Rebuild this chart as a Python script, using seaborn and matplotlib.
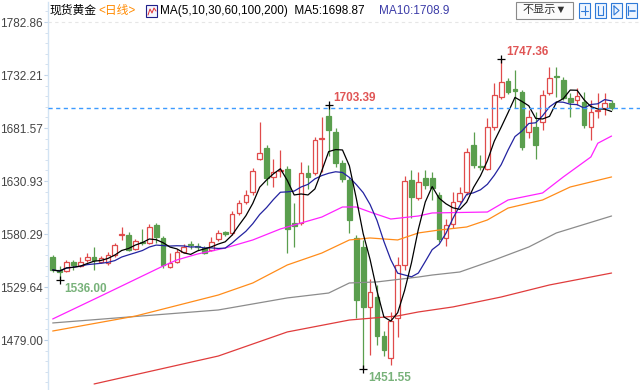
import numpy as np
import pandas as pd
import matplotlib
matplotlib.use('Agg')
import matplotlib.pyplot as plt
import seaborn as sns
from matplotlib.patches import Rectangle
from matplotlib.ticker import AutoMinorLocator

sns.set_style('white')
plt.rcParams['font.family'] = ['Liberation Sans', 'Noto Sans CJK SC', 'DejaVu Sans']

# daily candles, spot gold
opens = [1558.3, 1546.0, 1545.0, 1553.6, 1549.7, 1555.5, 1558.3, 1553.6, 1552.6, 1560.2,
         1579.0, 1579.4, 1566.0, 1572.7, 1571.7, 1589.0, 1576.5, 1548.8, 1553.6, 1563.1,
         1570.5, 1568.5, 1566.9, 1565.0, 1575.5, 1582.0, 1581.3, 1600.4, 1610.9, 1620.4,
         1652.0, 1662.5, 1634.8, 1640.5, 1642.4, 1590.8, 1590.8, 1638.6, 1638.6, 1671.0,
         1693.1, 1677.8, 1648.2, 1631.9, 1576.5, 1567.9, 1510.6, 1520.0, 1482.9, 1462.0,
         1500.1, 1550.7, 1631.9, 1614.7, 1633.8, 1633.8, 1617.6, 1576.5, 1589.9, 1612.0,
         1620.0, 1665.4, 1645.0, 1642.4, 1682.6, 1711.2, 1726.5, 1718.5, 1716.0, 1677.8,
         1682.6, 1687.3, 1715.0, 1731.0, 1727.4, 1710.2, 1708.3, 1706.4, 1682.6, 1698.0,
         1700.7, 1705.5]
highs = [1560.2, 1550.0, 1555.5, 1555.5, 1558.0, 1562.0, 1567.9, 1559.0, 1563.0, 1571.7,
         1587.0, 1582.0, 1575.5, 1585.0, 1590.0, 1591.0, 1578.0, 1562.2, 1566.0, 1571.0,
         1573.6, 1572.0, 1569.0, 1577.5, 1584.1, 1583.0, 1602.5, 1612.8, 1622.0, 1643.4,
         1687.3, 1665.4, 1651.8, 1660.6, 1645.0, 1609.9, 1649.0, 1646.2, 1673.0, 1692.1,
         1703.39, 1682.0, 1651.0, 1634.8, 1579.4, 1574.6, 1537.0, 1532.0, 1488.0, 1506.0,
         1558.3, 1636.0, 1641.5, 1640.0, 1641.5, 1639.6, 1620.4, 1595.0, 1620.4, 1625.0,
         1662.5, 1677.8, 1655.8, 1691.2, 1724.5, 1747.36, 1729.4, 1737.0, 1718.0, 1698.8,
         1697.0, 1717.9, 1739.9, 1740.0, 1730.0, 1715.0, 1719.5, 1716.0, 1708.3, 1715.0,
         1715.0, 1708.3]
lows = [1544.0, 1536.0, 1544.0, 1546.0, 1548.8, 1553.6, 1545.9, 1552.6, 1550.7, 1558.3,
        1574.6, 1564.0, 1565.0, 1569.8, 1570.7, 1571.7, 1548.0, 1548.0, 1552.6, 1562.2,
        1566.0, 1565.0, 1561.0, 1564.0, 1573.6, 1578.0, 1579.4, 1598.5, 1609.0, 1617.6,
        1651.0, 1627.1, 1625.2, 1634.8, 1562.2, 1568.0, 1588.9, 1623.0, 1637.0, 1640.0,
        1655.0, 1644.0, 1630.0, 1581.3, 1500.1, 1451.55, 1464.7, 1474.0, 1464.0, 1455.0,
        1481.9, 1545.9, 1596.0, 1612.8, 1623.0, 1612.8, 1572.7, 1569.0, 1586.0, 1610.0,
        1617.6, 1643.4, 1641.5, 1641.5, 1679.7, 1709.0, 1714.0, 1700.7, 1661.0, 1672.0,
        1652.0, 1679.7, 1713.0, 1711.2, 1708.3, 1692.1, 1703.6, 1681.6, 1670.1, 1691.2,
        1694.0, 1698.8]
closes = [1545.9, 1544.0, 1553.6, 1550.7, 1553.6, 1558.3, 1555.5, 1557.0, 1560.2, 1569.8,
          1580.3, 1565.0, 1573.6, 1571.7, 1587.0, 1577.0, 1550.7, 1552.6, 1563.1, 1567.9,
          1569.8, 1567.5, 1562.2, 1572.7, 1581.3, 1580.5, 1599.4, 1609.9, 1617.6, 1640.5,
          1657.7, 1633.8, 1639.6, 1641.5, 1585.1, 1588.0, 1638.6, 1634.8, 1670.1, 1672.0,
          1679.7, 1648.2, 1633.0, 1594.0, 1517.0, 1511.0, 1524.9, 1483.0, 1469.5, 1497.2,
          1550.7, 1631.0, 1615.7, 1630.0, 1627.1, 1624.3, 1575.5, 1588.9, 1610.9, 1619.5,
          1658.7, 1646.2, 1644.3, 1682.6, 1713.1, 1725.5, 1716.0, 1717.0, 1663.4, 1692.1,
          1665.4, 1713.1, 1729.4, 1730.0, 1710.2, 1706.4, 1712.2, 1684.5, 1696.9, 1699.0,
          1705.5, 1700.7]

# longer moving averages, read at a few candles (they need history before the window)
ma30_idx = [0, 7, 16, 18, 21, 25, 29, 33, 36, 39, 42, 44, 46, 49, 53, 55, 63, 66, 71, 74, 78, 79, 81]
ma30_val = [1499.1, 1521.1, 1549.7, 1555.5, 1561.2, 1566.9, 1574.6, 1585.1, 1590.8, 1596.5, 1606.1,
            1606.1, 1601.3, 1594.6, 1597.5, 1600.4, 1601.3, 1612.8, 1619.5, 1634.8, 1653.9, 1667.0, 1673.9]
ma60_idx = [0, 12, 24, 29, 34, 39, 43, 46, 50, 53, 56, 60, 63, 66, 71, 75, 81]
ma60_val = [1487.6, 1501.9, 1522.0, 1533.5, 1550.7, 1562.1, 1574.6, 1576.5, 1574.6, 1581.3, 1584.1,
            1587.0, 1593.7, 1605.1, 1612.8, 1625.2, 1634.8]
ma100_idx = [0, 24, 34, 40, 43, 47, 53, 55, 59, 64, 69, 73, 81]
ma100_val = [1495.3, 1507.7, 1519.2, 1523.9, 1533.5, 1534.5, 1539.2, 1541.1, 1544.0, 1555.5, 1567.9,
             1581.3, 1597.5]
ma200_idx = [6, 24, 34, 43, 50, 53, 58, 65, 72, 81]
ma200_val = [1437.0, 1463.7, 1486.7, 1498.1, 1502.0, 1505.8, 1510.6, 1520.1, 1531.6, 1543.0]

ytick_vals = [1479.00, 1529.64, 1580.29, 1630.93, 1681.57, 1732.21, 1782.86]
hi_marks = [40, 65]
lo_marks = [1, 45]

df = pd.DataFrame({'open': opens, 'high': highs, 'low': lows, 'close': closes})
df['idx'] = np.arange(len(df))
df['ma5'] = df['close'].rolling(5, min_periods=1).mean()
df['ma10'] = df['close'].rolling(10, min_periods=1).mean()

red = '#e04b4b'
green = '#5a9e4e'

fig = plt.figure(figsize=(6.4, 3.9), dpi=100)
ax = fig.add_axes([48 / 640, 0, 592 / 640, 388 / 390])
ax.set_xlim(-0.68, 85.12)
ax.set_ylim(1431.24, 1801.97)

# candles
for i, r in df.iterrows():
    up = r['close'] >= r['open']
    col = red if up else green
    ax.vlines(i, r['low'], r['high'], color=col, lw=0.9, zorder=2)
    lo = min(r['open'], r['close'])
    h = max(abs(r['close'] - r['open']), 0.9)
    ax.add_patch(Rectangle((i - 0.34, lo), 0.68, h, facecolor='white' if up else col,
                           edgecolor=col, lw=0.9, zorder=3))

# moving averages
sns.lineplot(x=ma200_idx, y=ma200_val, color='#e03c3c', lw=0.9, ax=ax, zorder=4)
sns.lineplot(x=ma100_idx, y=ma100_val, color='#8c8c8c', lw=0.9, ax=ax, zorder=4)
sns.lineplot(x=ma60_idx, y=ma60_val, color='#ff8c1a', lw=0.9, ax=ax, zorder=4)
sns.lineplot(x=ma30_idx, y=ma30_val, color='#ff22ff', lw=0.9, ax=ax, zorder=4)
sns.lineplot(data=df, x='idx', y='ma10', color='#2323a0', lw=0.9, ax=ax, zorder=5)
sns.lineplot(data=df, x='idx', y='ma5', color='black', lw=0.9, ax=ax, zorder=5)

# last price line and top guide
ax.axhline(closes[-1], color='#3d9bff', lw=1, ls=(0, (3, 2.5)), zorder=6)
ax.axhline(ytick_vals[-1], color='#e6e6e6', lw=0.8, ls=(0, (3, 3)), zorder=1)

# high / low markers
for i in hi_marks:
    ax.plot(i, highs[i], marker='+', ms=5.5, mew=0.9, color='black', zorder=7)
    ax.annotate(f'{highs[i]:.2f}', (i, highs[i]), xytext=(5, 7), textcoords='offset pixels',
                ha='left', va='center', color='#e05555', fontsize=8.5, fontweight='bold')
for i in lo_marks:
    ax.plot(i, lows[i], marker='+', ms=5.5, mew=0.9, color='black', zorder=7)
    ax.annotate(f'{lows[i]:.2f}', (i, lows[i]), xytext=(5, -9), textcoords='offset pixels',
                ha='left', va='center', color='#78b27a', fontsize=8.5, fontweight='bold')

ax.set_yticks(ytick_vals)
ax.set_yticklabels([f'{v:.2f}' for v in ytick_vals])
ax.yaxis.set_minor_locator(AutoMinorLocator(5))
ax.tick_params(axis='y', which='major', direction='out', length=3, width=0.8, color='#b8cfe6',
               labelcolor='#444444', labelsize=8.5, pad=0.5, left=True)
ax.tick_params(axis='y', which='minor', direction='out', length=2, width=0.6, color='#cddcec', left=True)
ax.set_xticks([])
ax.set_xlabel('')
ax.set_ylabel('')
for s in ['top', 'right', 'bottom']:
    ax.spines[s].set_visible(False)
ax.spines['left'].set_color('#d2e3f3')
ax.spines['left'].set_linewidth(1)


def fx(x):
    return x / 640


def fy(y):
    return 1 - y / 390


# header
fig.text(fx(50), fy(11), '现货黄金', fontsize=8.5, color='black', va='center')
fig.text(fx(98), fy(11), '<日线>', fontsize=8.5, color='#ff8a00', va='center')
fig.patches.append(Rectangle((fx(146), fy(17)), 11 / 640, 12 / 390, transform=fig.transFigure,
                             facecolor='#f4f6ff', edgecolor='#20208a', lw=0.8))
fig.lines.append(plt.Line2D([fx(148), fx(150), fx(152), fx(154), fx(156)],
                            [fy(15), fy(9), fy(13), fy(8), fy(11)], transform=fig.transFigure,
                            color='#e03030', lw=0.7))
fig.text(fx(160), fy(11), 'MA(5,10,30,60,100,200)  MA5:1698.87', fontsize=8.5, color='black', va='center')
fig.text(fx(379), fy(11), 'MA10:1708.9', fontsize=8.5, color='#3c3ca8', va='center')

# right buttons
fig.patches.append(Rectangle((fx(516), fy(19)), 57 / 640, 17 / 390, transform=fig.transFigure,
                             facecolor='#fbfbfb', edgecolor='#8a8a8a', lw=0.8))
fig.text(fx(544.5), fy(10.5), '不显示▼', fontsize=8, color='#333333', va='center', ha='center')
for x0 in [579, 595, 611, 626]:
    fig.patches.append(Rectangle((fx(x0), fy(18)), 11 / 640, 15 / 390, transform=fig.transFigure,
                                 facecolor='#eef5ff', edgecolor='#2f7ad8', lw=0.8))
fig.lines.append(plt.Line2D([fx(581), fx(588)], [fy(10.5), fy(10.5)], transform=fig.transFigure, color='#2f7ad8', lw=0.8))
fig.lines.append(plt.Line2D([fx(584.5), fx(584.5)], [fy(6), fy(15)], transform=fig.transFigure, color='#2f7ad8', lw=0.8))
fig.lines.append(plt.Line2D([fx(598), fx(598), fx(603), fx(603)], [fy(6), fy(15), fy(15), fy(6)],
                            transform=fig.transFigure, color='#2f7ad8', lw=0.8))
fig.lines.append(plt.Line2D([fx(614), fx(619), fx(614), fx(614)], [fy(6), fy(10.5), fy(15), fy(6)],
                            transform=fig.transFigure, color='#2f7ad8', lw=0.8))
fig.lines.append(plt.Line2D([fx(628), fx(628)], [fy(6), fy(15)], transform=fig.transFigure, color='#2f7ad8', lw=0.8))
fig.lines.append(plt.Line2D([fx(630), fx(635)], [fy(10.5), fy(10.5)], transform=fig.transFigure, color='#2f7ad8', lw=1.2))

fig.savefig('out.png', dpi=100, facecolor='white')
